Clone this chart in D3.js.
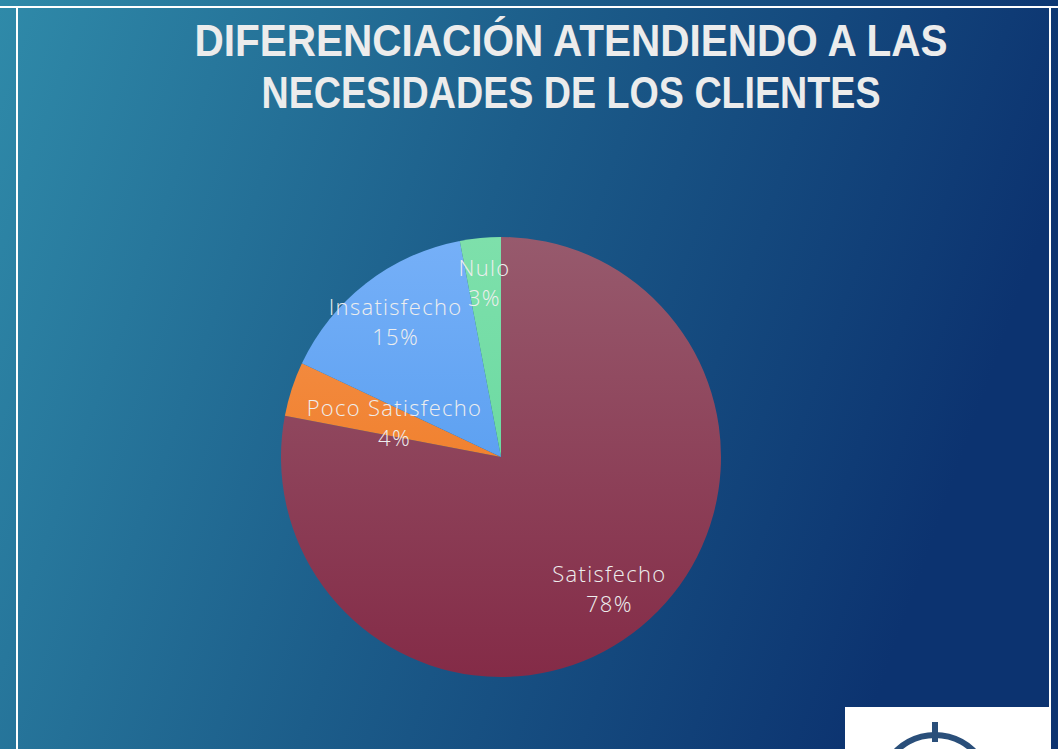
<!DOCTYPE html>
<html>
<head>
<meta charset="utf-8">
<script src="https://cdn.jsdelivr.net/npm/d3@7"></script>
<style>
  body { margin: 0; background: #1a4f80; }
  svg { display: block; }
</style>
</head>
<body>
<div id="chart"></div>
<script>
// data
const categories = ["Satisfecho", "Poco Satisfecho", "Insatisfecho", "Nulo"];
const values = [78, 4, 15, 3];
const titleLines = ["DIFERENCIACIÓN ATENDIENDO A LAS", "NECESIDADES DE LOS CLIENTES"];

const colors = [["#975a6d", "#842b47"], ["#f59450", "#ec6f10"], ["#76b0f8", "#4592ea"], ["#7ee0ab", "#5bd49a"]];

const width = 1058, height = 749;
const cx = 501, cy = 457, radius = 220;

const svg = d3.select("#chart")
  .append("svg")
    .attr("width", width)
    .attr("height", height);

const defs = svg.append("defs");

const bg = defs.append("linearGradient")
    .attr("id", "bg")
    .attr("x1", "0").attr("y1", "0").attr("x2", "1").attr("y2", "0.25");
bg.append("stop").attr("offset", "0").attr("stop-color", "#2f8aa9");
bg.append("stop").attr("offset", "0.5").attr("stop-color", "#1c5d8a");
bg.append("stop").attr("offset", "1").attr("stop-color", "#0c3370");

colors.forEach(function(c, i) {
  const g = defs.append("linearGradient")
      .attr("id", "slice" + i)
      .attr("gradientUnits", "userSpaceOnUse")
      .attr("x1", 0).attr("y1", -radius).attr("x2", 0).attr("y2", radius);
  g.append("stop").attr("offset", "0").attr("stop-color", c[0]);
  g.append("stop").attr("offset", "1").attr("stop-color", c[1]);
});

svg.append("rect")
    .attr("width", width).attr("height", height)
    .attr("fill", "url(#bg)");

// frame lines
svg.append("line")
    .attr("x1", 0).attr("x2", width).attr("y1", 7).attr("y2", 7)
    .attr("stroke", "#ffffff").attr("stroke-width", 2);
svg.append("line")
    .attr("x1", 17).attr("x2", 17).attr("y1", 7).attr("y2", height)
    .attr("stroke", "#ffffff").attr("stroke-width", 2);
svg.append("line")
    .attr("x1", 1050).attr("x2", 1050).attr("y1", 7).attr("y2", height)
    .attr("stroke", "#ffffff").attr("stroke-width", 2);

// title
svg.append("g")
  .selectAll("text")
  .data(titleLines)
  .join("text")
    .attr("x", 571)
    .attr("y", function(d, i) { return 56 + i * 52; })
    .attr("text-anchor", "middle")
    .attr("textLength", function(d, i) { return i == 0 ? 753 : 619; })
    .attr("lengthAdjust", "spacingAndGlyphs")
    .attr("font-family", "Liberation Sans Narrow, Liberation Sans, sans-serif")
    .attr("font-weight", "bold")
    .attr("font-size", 44)
    .attr("fill", "#ececec")
    .text(function(d) { return d; });

const pie = d3.pie().sort(null).value(function(d) { return d; });
const arcs = pie(values);
const arc = d3.arc().innerRadius(0).outerRadius(radius);

const g = svg.append("g")
    .attr("transform", `translate(${cx}, ${cy})`);

g.selectAll("path")
  .data(arcs)
  .join("path")
    .attr("d", arc)
    .attr("fill", function(d, i) { return "url(#slice" + i + ")"; });

// label radius per slice (PowerPoint best fit pulls the small ones inward)
const labelR = [170, 112, 172, 176];

const labels = g.selectAll("g.lbl")
  .data(arcs)
  .join("g")
    .attr("class", "lbl")
    .attr("transform", function(d, i) {
      const a = (d.startAngle + d.endAngle) / 2;
      const x = Math.sin(a) * labelR[i];
      const y = -Math.cos(a) * labelR[i];
      return `translate(${x}, ${y})`;
    });

labels.append("text")
    .attr("text-anchor", "middle")
    .attr("y", -6)
    .attr("font-family", "Open Sans, sans-serif")
    .attr("font-weight", 300)
    .attr("font-size", 22)
    .attr("letter-spacing", 1.3)
    .attr("fill", "#eeeeee")
    .text(function(d, i) { return categories[i]; });

labels.append("text")
    .attr("text-anchor", "middle")
    .attr("y", 24)
    .attr("font-family", "Open Sans, sans-serif")
    .attr("font-weight", 300)
    .attr("font-size", 22)
    .attr("letter-spacing", 1.3)
    .attr("fill", "#eeeeee")
    .text(function(d) { return d.data + "%"; });

// logo box in the corner
svg.append("rect")
    .attr("x", 845).attr("y", 707).attr("width", 206).attr("height", 42)
    .attr("fill", "#ffffff");
const logo = svg.append("g").attr("transform", "translate(935, 790)");
logo.append("path")
    .attr("d", d3.arc().innerRadius(52).outerRadius(58).startAngle(-1.0).endAngle(1.0)())
    .attr("fill", "#2a4f7a");
logo.append("rect")
    .attr("x", -3).attr("y", -68).attr("width", 6).attr("height", 20)
    .attr("fill", "#2a4f7a");
</script>
</body>
</html>
